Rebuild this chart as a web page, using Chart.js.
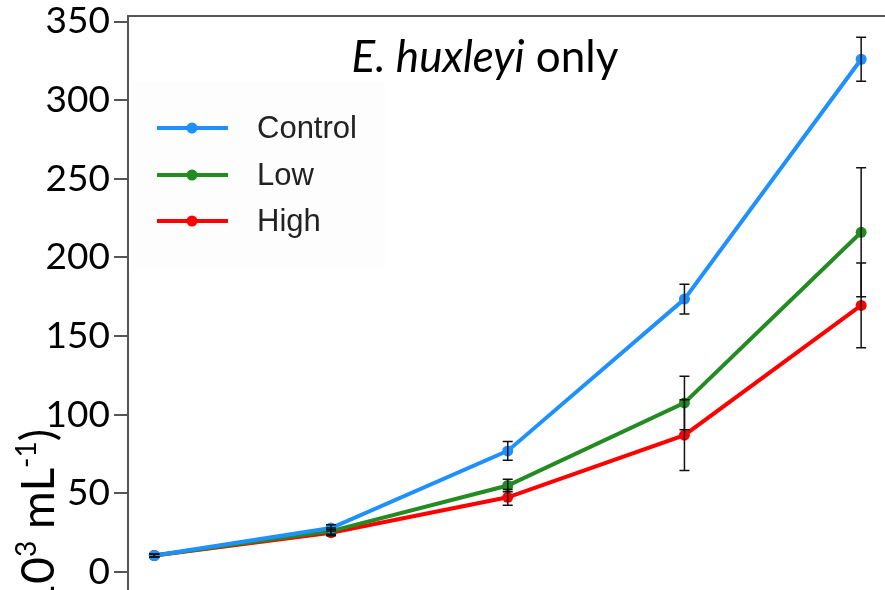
<!DOCTYPE html>
<html>
<head>
<meta charset="utf-8">
<script src="https://cdn.jsdelivr.net/npm/chart.js@4.4.0/dist/chart.umd.min.js"></script>
<style>
  html, body { margin: 0; padding: 0; background: #ffffff; }
  #wrap { width: 885px; height: 590px; position: relative; }
</style>
</head>
<body>
<div id="wrap"><canvas id="c" width="885" height="590"></canvas></div>
<script>
// ---- data ----
const timePoints = [0, 1, 2, 3, 4];
const seriesNames = ['Control', 'Low', 'High'];
const controlMean = [10.5, 28, 77, 173.5, 326];
const controlErr  = [1, 2, 6, 9.5, 14];
const lowMean     = [10.5, 26, 55, 107.5, 216];
const lowErr      = [1, 2, 4, 17, 41];
const highMean    = [10.5, 25, 47.5, 87, 169.5];
const highErr     = [1, 2, 5, 22.5, 27];
const yTickValues = [0, 50, 100, 150, 200, 250, 300, 350];
const chartTitleItalic = 'E. huxleyi';
const chartTitleRest = ' only';
const yTitleParts = [
  { t: 'Cell density (10', sup: false },
  { t: '3', sup: true },
  { t: ' mL', sup: false },
  { t: '-1', sup: true },
  { t: ')', sup: false }
];

const colors = ['#1e90ff', '#228b22', '#ff0000'];
const means = [controlMean, lowMean, highMean];
const errs = [controlErr, lowErr, highErr];

const datasets = seriesNames.map((name, i) => ({
  label: name,
  data: timePoints.map((x, j) => ({ x: x, y: means[i][j] })),
  errors: errs[i],
  borderColor: colors[i],
  backgroundColor: colors[i],
  borderWidth: 4,
  pointRadius: 5.5,
  pointHoverRadius: 5.5,
  pointBorderWidth: 0,
  tension: 0,
  fill: false
}));

const errorBarPlugin = {
  id: 'errorBars',
  afterDatasetsDraw(chart) {
    const ctx = chart.ctx;
    const ys = chart.scales.y;
    ctx.save();
    ctx.strokeStyle = '#111111';
    ctx.lineWidth = 1.5;
    chart.data.datasets.forEach((ds, i) => {
      const meta = chart.getDatasetMeta(i);
      meta.data.forEach((pt, j) => {
        const m = ds.data[j].y, e = ds.errors[j];
        const x = pt.x;
        const yt = ys.getPixelForValue(m + e);
        const yb = ys.getPixelForValue(m - e);
        ctx.beginPath();
        ctx.moveTo(x, yt); ctx.lineTo(x, yb);
        ctx.moveTo(x - 5, yt); ctx.lineTo(x + 5, yt);
        ctx.moveTo(x - 5, yb); ctx.lineTo(x + 5, yb);
        ctx.stroke();
      });
    });
    ctx.restore();
  }
};

const legendPlugin = {
  id: 'innerLegend',
  beforeDatasetsDraw(chart) {
    const ctx = chart.ctx;
    ctx.save();
    ctx.fillStyle = '#fdfdfd';
    ctx.fillRect(135, 82, 250, 185);
    ctx.restore();
  },
  afterDatasetsDraw(chart) {
    const ctx = chart.ctx;
    ctx.save();
    const rows = [128, 175, 221];
    chart.data.datasets.forEach((ds, i) => {
      const y = rows[i];
      ctx.strokeStyle = ds.borderColor;
      ctx.lineWidth = 4;
      ctx.beginPath();
      ctx.moveTo(157, y); ctx.lineTo(228, y);
      ctx.stroke();
      ctx.fillStyle = ds.borderColor;
      ctx.beginPath();
      ctx.arc(192, y, 5.5, 0, Math.PI * 2);
      ctx.fill();
      ctx.fillStyle = '#222222';
      ctx.font = '31px "Liberation Sans", Arial, sans-serif';
      ctx.textAlign = 'left';
      ctx.textBaseline = 'middle';
      ctx.fillText(ds.label, 257, y + 1);
    });
    ctx.restore();
  }
};

const textPlugin = {
  id: 'texts',
  afterDraw(chart) {
    const ctx = chart.ctx;
    ctx.save();
    // chart title
    ctx.fillStyle = '#000000';
    ctx.textBaseline = 'alphabetic';
    const fi = 'italic 44px Lato, sans-serif';
    const fn = '44px Lato, sans-serif';
    ctx.font = fi; const w1 = ctx.measureText(chartTitleItalic).width;
    ctx.font = fn; const w2 = ctx.measureText(chartTitleRest).width;
    const x0 = 485 - (w1 + w2) / 2;
    ctx.font = fi; ctx.textAlign = 'left'; ctx.fillText(chartTitleItalic, x0, 72);
    ctx.font = fn; ctx.fillText(chartTitleRest, x0 + w1, 72);

    // y axis title (rotated), end of text at screen y = 430
    const big = 46, small = 28;
    let total = 0;
    yTitleParts.forEach(p => {
      ctx.font = (p.sup ? small : big) + 'px Lato, sans-serif';
      p.w = ctx.measureText(p.t).width;
      total += p.w;
    });
    ctx.translate(54, 429);
    ctx.rotate(-Math.PI / 2);
    let x = -total;
    yTitleParts.forEach(p => {
      ctx.font = (p.sup ? small : big) + 'px Lato, sans-serif';
      ctx.fillText(p.t, x, p.sup ? -18 : 0);
      x += p.w;
    });
    ctx.restore();
  }
};

new Chart(document.getElementById('c'), {
  type: 'line',
  data: { datasets: datasets },
  plugins: [legendPlugin, errorBarPlugin, textPlugin],
  options: {
    responsive: false,
    animation: false,
    layout: { padding: 0, autoPadding: false },
    plugins: { legend: { display: false }, title: { display: false }, tooltip: { enabled: false } },
    scales: {
      x: {
        type: 'linear',
        position: 'top',
        min: -0.149,
        max: 4.135,
        ticks: { display: false },
        grid: { display: false },
        border: { display: true, color: '#555555', width: 2 },
        afterFit(s) { s.height = 16; s.paddingLeft = 0; s.paddingRight = 0; }
      },
      y: {
        type: 'linear',
        position: 'left',
        min: -11.44,
        max: 353.5,
        afterBuildTicks(s) { s.ticks = yTickValues.map(v => ({ value: v })); },
        ticks: {
          color: '#000000',
          padding: 4,
          font: { family: 'Lato', size: 37 },
          autoSkip: false
        },
        grid: { display: true, drawOnChartArea: false, drawTicks: true, tickLength: 14, color: '#555555', lineWidth: 2 },
        border: { display: true, color: '#555555', width: 2 },
        afterFit(s) { s.width = 128; s.paddingTop = 0; s.paddingBottom = 0; }
      }
    }
  }
});
</script>
</body>
</html>
